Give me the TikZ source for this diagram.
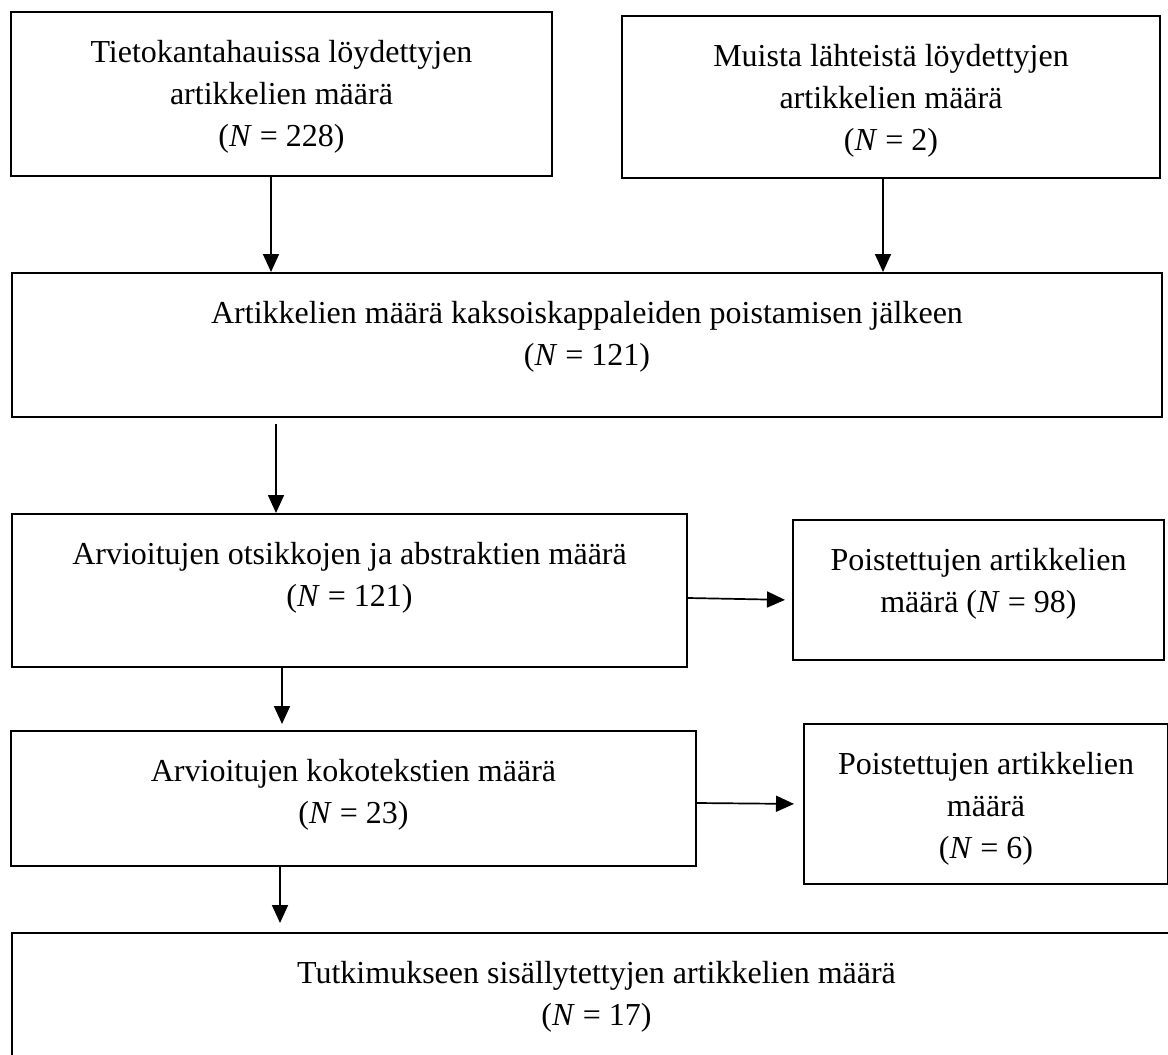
\documentclass[tikz,border=0pt]{standalone}
\usepackage{fontspec}
\setmainfont{Liberation Serif}
\usetikzlibrary{positioning, arrows.meta}

\tikzset{
  laatikko/.style 2 args={draw, line width=2pt, anchor=north west, minimum width=#1, minimum height=#2, inner sep=0pt},
  teksti/.style={align=center, inner sep=0pt, font=\fontsize{32}{42}\selectfont},
  nuoli/.style={-{Triangle[length=18pt, width=16pt]}, line width=1.7pt}
}

\begin{document}
\begin{tikzpicture}[x=1pt, y=-1pt]
  \useasboundingbox (0,0) rectangle (1168,1055);
  \clip (0,0) rectangle (1168,1055);
  % laatikot
  \node[laatikko={541pt}{164pt}] (haku) at (10,11) {};
  \node[laatikko={538pt}{162pt}] (muut) at (621,15) {};
  \node[laatikko={1150pt}{144pt}] (kaksois) at (11,272) {};
  \node[laatikko={675pt}{153pt}] (otsikot) at (11,513) {};
  \node[laatikko={371pt}{140pt}] (poisto1) at (792,519) {};
  \node[laatikko={685pt}{135pt}] (koko) at (10,730) {};
  \node[laatikko={364pt}{160pt}] (poisto2) at (803,723) {};
  \node[laatikko={1169pt}{150pt}] (mukaan) at (11,932) {};
  % tekstit
  \node[teksti, below=29pt of haku.north] (hakuT) {Tietokantahauissa löydettyjen\\artikkelien määrä\\(\textit{N} = 228)};
  \node[teksti, below=29pt of muut.north] (muutT) {Muista lähteistä löydettyjen\\artikkelien määrä\\(\textit{N} = 2)};
  \node[teksti, below=29pt of kaksois.north] (kaksoisT) {Artikkelien määrä kaksoiskappaleiden poistamisen jälkeen\\(\textit{N} = 121)};
  \node[teksti, below=29pt of otsikot.north] (otsikotT) {Arvioitujen otsikkojen ja abstraktien määrä\\(\textit{N} = 121)};
  \node[teksti, below=29pt of poisto1.north] (poisto1T) {Poistettujen artikkelien\\määrä (\textit{N} = 98)};
  \node[teksti, below=29pt of koko.north] (kokoT) {Arvioitujen kokotekstien määrä\\(\textit{N} = 23)};
  \node[teksti, below=29pt of poisto2.north] (poisto2T) {Poistettujen artikkelien\\määrä\\(\textit{N} = 6)};
  \node[teksti, below=29pt of mukaan.north] (mukaanT) {Tutkimukseen sisällytettyjen artikkelien määrä\\(\textit{N} = 17)};
  % nuolet
  \draw[nuoli] ([xshift=-10.5pt]haku.south) -- ([xshift=-10.5pt]haku.south |- kaksois.north);
  \draw[nuoli] ([xshift=-8pt]muut.south) -- ([xshift=-8pt]muut.south |- kaksois.north);
  \draw[nuoli, shorten <=6pt] ([xshift=265pt]kaksois.south west) -- ([xshift=265pt]kaksois.south west |- otsikot.north);
  \draw[nuoli, shorten >=7pt] ([yshift=-7.5pt]otsikot.east) -- ([yshift=-10pt]poisto1.west);
  \draw[nuoli, shorten >=6pt] ([xshift=271pt]otsikot.south west) -- ([xshift=271pt]otsikot.south west |- koko.north);
  \draw[nuoli, shorten >=9pt] ([yshift=-4.5pt]koko.east) -- (poisto2.west);
  \draw[nuoli, shorten >=9pt] ([xshift=270pt]koko.south west) -- ([xshift=270pt]koko.south west |- mukaan.north);
\end{tikzpicture}
\end{document}
